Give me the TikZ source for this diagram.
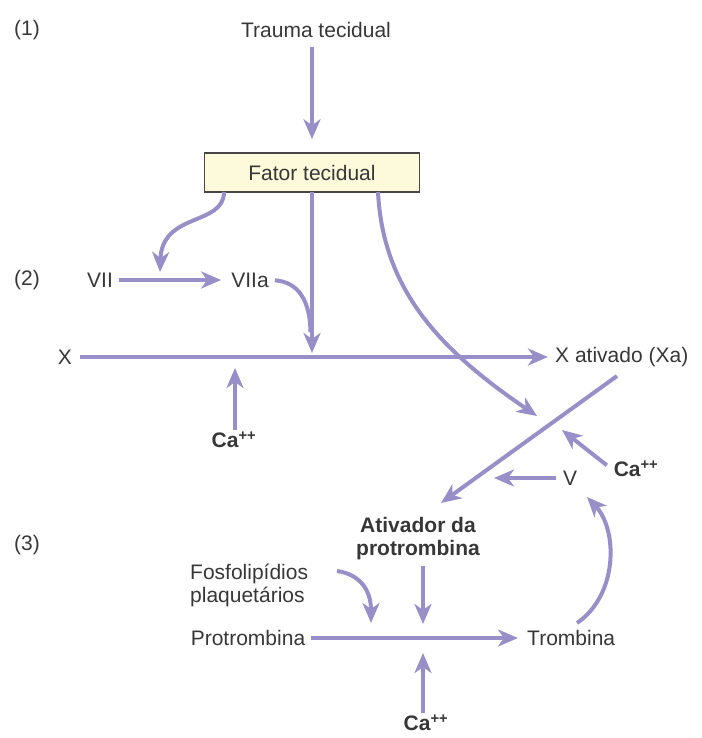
\documentclass[tikz,border=0pt]{standalone}
\usepackage{fontspec}
\setmainfont{Liberation Sans}
\usetikzlibrary{arrows.meta}

\definecolor{flow}{RGB}{152,142,200}
\definecolor{ink}{RGB}{55,55,55}
\definecolor{boxfill}{RGB}{252,250,218}
\definecolor{boxline}{RGB}{70,70,70}

\begin{document}
\begin{tikzpicture}[x=1pt, y=-1pt,
  lbl/.style={text=ink, font=\fontsize{21}{23}\selectfont, inner sep=2pt},
  bold/.style={text=ink, font=\fontsize{21}{23}\selectfont\bfseries, inner sep=2pt},
  flowline/.style={draw=flow, line width=4pt},
  arr/.style={flowline, -{Stealth[length=20pt, width=17pt, inset=6pt]}},
  factorbox/.style={lbl, draw=boxline, line width=1.5pt, fill=boxfill,
    minimum width=215pt, minimum height=39pt}]

\useasboundingbox (0,0) rectangle (701,738);

% stage markers
\node[lbl] (s1) at (27,30) {(1)};
\node[lbl] (s2) at (27,280) {(2)};
\node[lbl] (s3) at (27,545) {(3)};

% nodes
\node[lbl] (trauma) at (316,30) {Trauma tecidual};
\node[factorbox] (fator) at (312,172.5) {Fator tecidual};
\node[lbl] (vii) at (100,280) {VII};
\node[lbl] (viia) at (250,280) {VIIa};
\node[lbl] (x) at (65,357) {X};
\node[lbl, anchor=west] (xa) at (553,357) {X ativado (Xa)};
\node[bold] (ca1) at (234,440) {Ca\textsuperscript{++}};
\node[bold] (ca2) at (636,469) {Ca\textsuperscript{++}};
\node[lbl] (v) at (570,478) {V};
\node[bold, align=center] (ativ) at (418,538.5) {Ativador da\\protrombina};
\node[lbl, align=left, anchor=west] (fosfo) at (188,585) {Fosfolipídios\\plaquetários};
\node[lbl] (protro) at (248,638) {Protrombina};
\node[lbl, anchor=west] (trombina) at (525,638) {Trombina};
\node[bold] (ca3) at (426,723) {Ca\textsuperscript{++}};

% connector end points
\coordinate (fl) at (224,192);
\coordinate (fm) at (312,192);
\coordinate (fr) at (378,192);
\coordinate (jVII) at (160,272);
\coordinate (jX) at (312,353);
\coordinate (jCa1) at (235,368);
\coordinate (jXa) at (537,416);
\coordinate (xd) at (617,376);
\coordinate (jAtiv) at (441,503);
\coordinate (jCa2) at (562,430);
\coordinate (jV) at (494,478);
\coordinate (tb) at (577,623);
\coordinate (jVb) at (587,497);
\coordinate (fp) at (337,571);
\coordinate (jF) at (371,623);
\coordinate (jP) at (423,624);
\coordinate (jCa3) at (423,653);

% stage 1
\draw[arr, shorten <=7pt, shorten >=13pt] (trauma.south -| fm) -- (fator.north -| fm);

% stage 2
\draw[arr] (fl) .. controls (224,226) and (162,212) .. (jVII);
\draw[arr, shorten <=4pt, shorten >=8pt] (vii.east) -- (viia.west);
\draw[arr] (fm) -- (jX);
\draw[flowline, shorten <=4pt] (viia.east) .. controls (298,282) and (310,300) .. (310.5,332);
\draw[arr, shorten <=6pt, shorten >=5pt] (x.east) -- (xa.west);
\draw[arr] (ca1.north -| jCa1) -- (jCa1);
\draw[arr] (fr) .. controls (383,290) and (440,350) .. (jXa);
\draw[arr] (xd) -- (jAtiv);
\draw[arr, shorten <=6pt] (ca2.west) -- (jCa2);
\draw[arr, shorten <=5pt] (v.west) -- (jV);

% stage 3
\draw[arr] (tb) .. controls (618,595) and (618,530) .. (jVb);
\draw[arr] (fp) .. controls (358,574) and (371,588) .. (jF);
\draw[arr, shorten <=4pt] (ativ.south -| jP) -- (jP);
\draw[arr, shorten <=4pt, shorten >=7pt] (protro.east) -- (trombina.west);
\draw[arr] (ca3.north -| jCa3) -- (jCa3);

\end{tikzpicture}
\end{document}
